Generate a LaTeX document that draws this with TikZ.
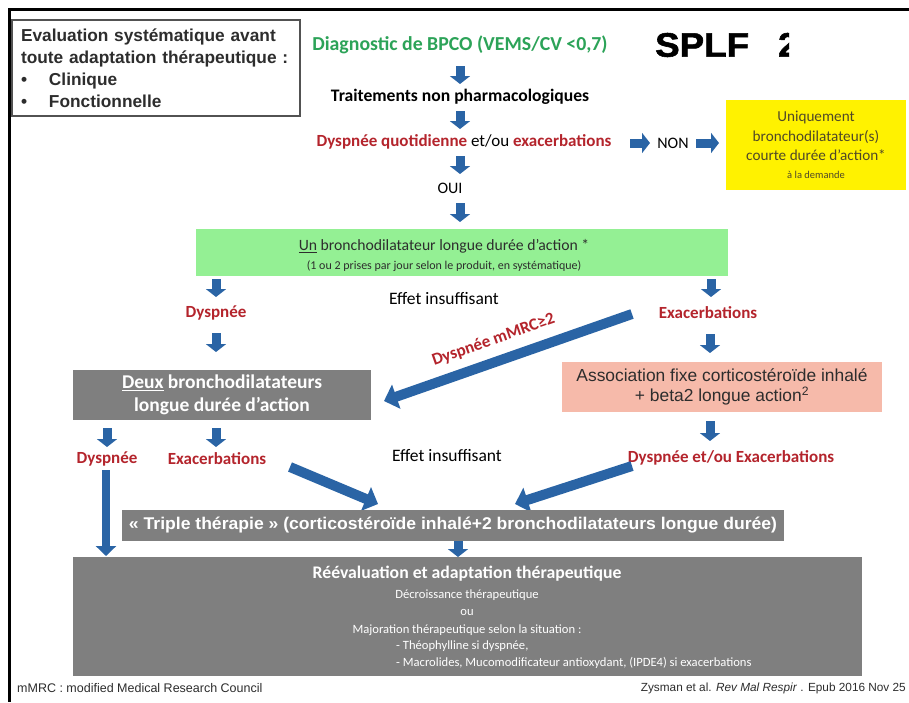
\documentclass[tikz,border=0pt]{standalone}
\usepackage{fontspec}
\usepackage{graphicx}
\setmainfont{Carlito}
\newfontfamily\arial{Liberation Sans}
\newfontfamily\heavy{Liberation Sans Bold}[FakeBold=1.6]
\usetikzlibrary{arrows.meta}
\definecolor{abl}{RGB}{42,100,165}
\definecolor{dred}{RGB}{180,36,44}
\definecolor{dgreen}{RGB}{44,163,88}
\definecolor{boxgray}{RGB}{127,127,127}
\definecolor{lgreen}{RGB}{148,240,148}
\definecolor{salmon}{RGB}{246,186,170}
\definecolor{txtdark}{RGB}{45,45,45}
\definecolor{yeltxt}{RGB}{80,72,40}
\newcommand\fsz[2]{\fontsize{#1}{#2}\selectfont}
\begin{document}
\begin{tikzpicture}[x=1pt,y=-1pt,
  barrow/.style={draw=abl, line width=9pt, -{Triangle[length=8pt,width=20pt]}},
  bigarrow/.style={draw=abl, line width=10pt, -{Triangle[length=13pt,width=25pt]}},
  redlab/.style={text=dred, font=\bfseries\fsz{17}{20}, inner sep=0pt},
  plain/.style={text=black, inner sep=0pt},
  evalbox/.style={draw=black!68, line width=1.8pt, minimum width=288pt, minimum height=96pt,
     inner sep=0pt, text width=270pt, align=left, font=\arial\bfseries\fsz{17.3}{22}, text=txtdark},
  graybox/.style={fill=boxgray, inner sep=0pt, text=white, align=center},
  wline/.style={text=white, inner sep=0pt, font=\fsz{12.6}{15}}
]
\useasboundingbox (0,0) rectangle (909,702);
\fill[white] (0,0) rectangle (909,702);
% frame
\fill[black] (8,7.5) rectangle (909,11);
\fill[black] (7.5,7.5) rectangle (11,702);

% top-left box
\node[evalbox] (eval) at (156,68) {Evaluation systématique avant\\toute adaptation thérapeutique :\\\makebox[28pt][l]{•}Clinique\\\makebox[28pt][l]{•}Fonctionnelle};

% title
\begin{scope}
\clip (640,15) rectangle (789,75);
\node[anchor=west, inner sep=0pt, font=\heavy\fsz{34}{38}] (splf) at (655,45) {\scalebox{1.08}[1]{SPLF}};
\node[anchor=west, inner sep=0pt, font=\heavy\fsz{34}{38}] (year) at (778,45) {2016};
\end{scope}

% main flow
\node[inner sep=0pt, text=dgreen, font=\bfseries\fsz{19.8}{23}] (diag) at (460,45) {Diagnostic de BPCO (VEMS/CV <0,7)};
\node[plain, font=\bfseries\fsz{17.6}{20}] (trait) at (460,97) {Traitements non pharmacologiques};
\node[plain, font=\fsz{17}{20}] (dysq) at (464,142) {\textcolor{dred}{\bfseries Dyspnée quotidienne} et/ou \textcolor{dred}{\bfseries exacerbations}};
\node[plain, font=\fsz{16}{19}] (non) at (673,143) {NON};
\node[plain, font=\fsz{16}{19}] (oui) at (450,188) {OUI};
\node[fill=yellow, minimum width=180pt, minimum height=90pt, inner sep=0pt, align=center, text=yeltxt, font=\fsz{15.2}{19.5}] (yel) at (816,145)
  {Uniquement\\bronchodilatateur(s)\\courte durée d'action*\\[-2pt]{\fsz{10.5}{12}à la demande}};

\coordinate (a1s) at (460,66); \coordinate (a1e) at (460,84);
\coordinate (a2s) at (460,111); \coordinate (a2e) at (460,129);
\coordinate (a3s) at (460,156); \coordinate (a3e) at (460,174);
\coordinate (a4s) at (460,203); \coordinate (a4e) at (460,222);
\coordinate (r1s) at (630,143); \coordinate (r1e) at (650,143);
\coordinate (r2s) at (696,143); \coordinate (r2e) at (719,143);
\draw[barrow] (a1s) -- (a1e);
\draw[barrow] (a2s) -- (a2e);
\draw[barrow] (a3s) -- (a3e);
\draw[barrow] (a4s) -- (a4e);
\draw[barrow] (r1s) -- (r1e);
\draw[barrow] (r2s) -- (r2e);

% green box
\node[fill=lgreen, minimum width=532pt, minimum height=47pt, inner sep=0pt] (grn) at (462,252.5) {};
\node[plain, text=txtdark, font=\fsz{15.7}{19}] (grnt1) at (444,246) {\underline{Un} bronchodilatateur longue durée d'action *};
\node[plain, text=txtdark, font=\fsz{12}{13}] (grnt2) at (444,266) {(1 ou 2 prises par jour selon le produit, en systématique)};

\coordinate (gls) at (216,279); \coordinate (gle) at (216,297);
\coordinate (grs) at (711,279); \coordinate (gre) at (711,297);
\draw[barrow] (gls) -- (gle);
\draw[barrow] (grs) -- (gre);

\node[plain, font=\fsz{17.5}{20}] (eff1) at (444,299) {Effet insuffisant};
\node[redlab] (dys1) at (216,313) {Dyspnée};
\node[redlab] (exa1) at (708,313) {Exacerbations};

\coordinate (d1s) at (216,333); \coordinate (d1e) at (216,352);
\coordinate (e1s) at (710,334); \coordinate (e1e) at (710,353);
\draw[barrow] (d1s) -- (d1e);
\draw[barrow] (e1s) -- (e1e);

% second level
\node[graybox, minimum width=298pt, minimum height=50pt, font=\bfseries\fsz{19.5}{23}] (deux) at (222,395) {\underline{Deux} bronchodilatateurs\\longue durée d'action};
\node[fill=salmon, minimum width=320pt, minimum height=50pt, inner sep=0pt, align=center, text=txtdark, font=\arial\fsz{17.4}{20.5}] (salm) at (722,387) {Association fixe corticostéroïde inhalé\\+ beta2 longue action\textsuperscript{2}};

\coordinate (ms) at (632,314); \coordinate (me) at (384,401);
\draw[bigarrow] (ms) -- node[sloped, above=9pt, pos=0.53, redlab] (mmrc) {Dyspnée mMRC≥2} (me);

\coordinate (u1s) at (107,428); \coordinate (u1e) at (107,447);
\coordinate (u2s) at (216,428); \coordinate (u2e) at (216,447);
\coordinate (u3s) at (710,421); \coordinate (u3e) at (710,441);
\draw[barrow] (u1s) -- (u1e);
\draw[barrow] (u2s) -- (u2e);
\draw[barrow] (u3s) -- (u3e);

\node[redlab] (dys2) at (107,459) {Dyspnée};
\node[redlab] (exa2) at (217,459) {Exacerbations};
\node[plain, font=\fsz{17.5}{20}] (eff2) at (447,456) {Effet insuffisant};
\node[redlab] (dysex) at (731,458) {Dyspnée et/ou Exacerbations};

\coordinate (ls) at (106,470); \coordinate (le) at (106,556);
\coordinate (dls) at (290,467); \coordinate (dle) at (378,504);
\coordinate (drs) at (632,466); \coordinate (dre) at (515,504);
\draw[draw=abl, line width=8pt, -{Triangle[length=10pt,width=20pt]}] (ls) -- (le);
\draw[bigarrow] (dls) -- (dle);
\draw[bigarrow] (drs) -- (dre);

% triple
\node[graybox, minimum width=662pt, minimum height=31pt, font=\arial\bfseries\fsz{17}{19}] (triple) at (453,525) {\resizebox{648pt}{\height}{« Triple thérapie » (corticostéroïde inhalé+2 bronchodilatateurs longue durée)}};
\coordinate (ts) at (458,541); \coordinate (te) at (458,557);
\draw[barrow] (ts) -- (te);

% big box
\node[fill=boxgray, minimum width=789pt, minimum height=119pt, inner sep=0pt] (big) at (467.5,616.5) {};
\node[wline, font=\bfseries\fsz{17.7}{20}] (bt) at (467,574) {Réévaluation et adaptation thérapeutique};
\node[wline] (b1) at (467,595) {Décroissance thérapeutique};
\node[wline] (b2) at (467,612) {ou};
\node[wline] (b3) at (467,630) {Majoration thérapeutique selon la situation :};
\node[wline, anchor=west] (b4) at (396,646) {- Théophylline si dyspnée,};
\node[wline, anchor=west] (b5) at (396,663) {- Macrolides, Mucomodificateur antioxydant, (IPDE4) si exacerbations};

% footer
\node[anchor=west, inner sep=0pt, text=txtdark, font=\arial\fsz{12.5}{14}] (fl) at (17,688) {mMRC : modified Medical Research Council};
\node[anchor=east, inner sep=0pt, text=txtdark, font=\arial\fsz{11.8}{14}] (fr) at (906,688) {Zysman et al. \textit{Rev Mal Respir} . Epub 2016 Nov 25};
\end{tikzpicture}
\end{document}
